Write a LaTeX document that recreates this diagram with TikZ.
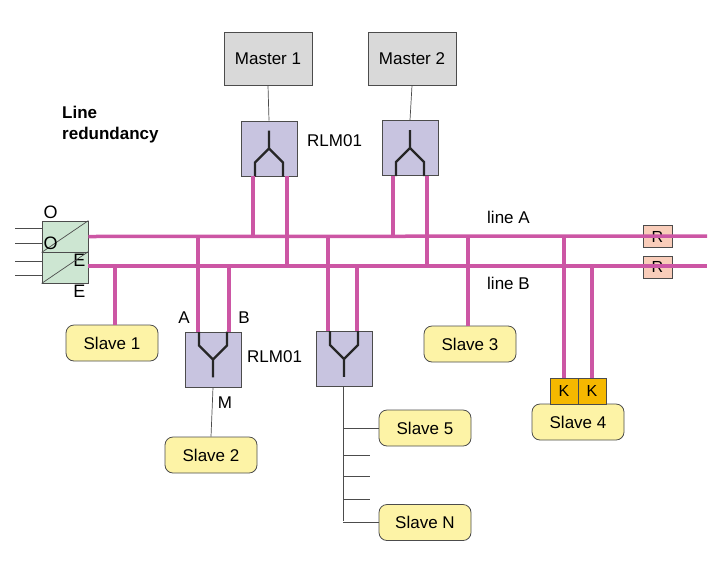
\documentclass[tikz,border=0pt]{standalone}
\usepackage{fontspec}
\setmainfont{Liberation Sans}
\begin{document}
\begin{tikzpicture}[x=1pt,y=-1pt,
  bus/.style={draw={rgb,255:red,204;green,86;blue,164},line width=3.5pt},
  thin/.style={draw=black!70,line width=0.7pt},
  box/.style={draw=black!70,line width=0.8pt,minimum width=56pt,minimum height=55pt,inner sep=0pt,fill={rgb,255:red,200;green,196;blue,224}},
  master/.style={draw=black!70,line width=0.8pt,minimum width=88pt,minimum height=53pt,fill={rgb,255:red,217;green,217;blue,217},font=\fontsize{17}{19}\selectfont},
  slave/.style={draw=black!70,line width=0.8pt,rounded corners=8pt,minimum width=92pt,minimum height=36pt,fill={rgb,255:red,253;green,243;blue,166},font=\fontsize{17}{19}\selectfont},
  sm/.style={draw=black!70,line width=0.8pt,minimum width=29pt,minimum height=22pt,inner sep=0pt,font=\fontsize{16}{18}\selectfont},
  lbl/.style={font=\fontsize{17}{19}\selectfont,inner sep=0pt},
  fork/.style={line width=2.2pt,black!85}]
\useasboundingbox (0,0) rectangle (719,560);
% masters
\node[master] (m1) at (268,58.5) {Master 1};
\node[master] (m2) at (412,58.5) {Master 2};
% RLM boxes
\node[box] (r1) at (269,148.5) {};
\node[box] (r2) at (410,148) {};
\node[box] (r3) at (213,359.5) {};
\node[box] (r4) at (344,359) {};
\draw[thin] (m1.south) -- (r1.north);
\draw[thin] (m2.south) -- (r2.north);
% forks up (top)
\foreach \r in {r1,r2}{
  \draw[fork] ([yshift=-10pt]\r.north) -- (\r.center) -- ++(-14,14) -- ++(0,14);
  \draw[fork] (\r.center) -- ++(14,14) -- ++(0,14);}
\foreach \r in {r3,r4}{
  \draw[fork] ([yshift=10pt]\r.south) -- (\r.center) -- ++(-14,-14) -- ++(0,-14);
  \draw[fork] (\r.center) -- ++(14,-14) -- ++(0,-14);}
% O/E converters
\node[sm,minimum width=46pt,minimum height=31pt,fill={rgb,255:red,205;green,230;blue,210}] (oe1) at (65,236.5) {};
\node[sm,minimum width=46pt,minimum height=31pt,fill={rgb,255:red,205;green,230;blue,210}] (oe2) at (65,267.5) {};
\foreach \o in {oe1,oe2}{
  \draw[thin] (\o.south west) -- (\o.north east);
  \node[lbl,font=\fontsize{18}{20}\selectfont] at ([xshift=9pt,yshift=8pt]\o.north west) {O};
  \node[lbl,font=\fontsize{18}{20}\selectfont] at ([xshift=-9pt,yshift=-8pt]\o.south east) {E};}
\foreach \y in {228,243,261,275} \draw[thin] (15,\y) -- (42,\y);
% R terminators
\node[sm,fill={rgb,255:red,249;green,205;blue,186}] (ra) at (657.5,236.5) {R};
\node[sm,fill={rgb,255:red,249;green,205;blue,186}] (rb) at (657.5,267) {R};
% buses
\coordinate (aend) at (707,236);
\coordinate (bend) at (707,266);
\draw[bus] (oe1.east) -- (aend);
\draw[bus] (88,266) -- (bend);
% slaves
\node[slave] (s1) at (112,343) {Slave 1};
\node[slave] (s2) at (211,455) {Slave 2};
\node[slave] (s3) at (470,344) {Slave 3};
\node[slave] (s4) at (578,422) {Slave 4};
\node[slave] (s5) at (425,428) {Slave 5};
\node[slave] (sn) at (425,522.5) {Slave N};
% K boxes
\node[sm,minimum height=26pt,minimum width=28pt,fill={rgb,255:red,245;green,184;blue,0}] (k1) at (564,391) {K};
\node[sm,minimum height=26pt,minimum width=28pt,fill={rgb,255:red,245;green,184;blue,0}] (k2) at (592,391) {K};
% drops
\draw[bus] (r1.south -| 253,0) -- (253,236);
\draw[bus] (r1.south -| 287,0) -- (287,266);
\draw[bus] (r2.south -| 393,0) -- (393,236);
\draw[bus] (r2.south -| 427,0) -- (427,266);
\draw[bus] (r3.north -| 198,0) -- (198,236);
\draw[bus] (r3.north -| 229,0) -- (229,266);
\draw[bus] (r4.north -| 328,0) -- (328,236);
\draw[bus] (r4.north -| 357,0) -- (357,266);
\draw[bus] (s1.north -| 115,0) -- (115,266);
\draw[bus] (s3.north -| 468,0) -- (468,236);
\draw[bus] (k1.north) -- (564,236);
\draw[bus] (k2.north) -- (592,266);
% thin links
\draw[thin] (r3.south) -- (s2.north);
\coordinate (tb) at (343,521);
\draw[thin] (r4.south -| 343,0) -- (tb);
\draw[thin] (343,428) -- (s5.west);
\draw[thin] (343,522.5) -- (sn.west);
\foreach \y in {455,476,499} \draw[thin] (343,\y) -- (370,\y);
% labels
\node[lbl,anchor=north west,align=left,font=\bfseries\fontsize{17}{21}\selectfont] (t) at (62,106) {Line\\redundancy};
\node[lbl,anchor=west] (l1) at (307,141) {RLM01};
\node[lbl,anchor=west] (l2) at (247,357) {RLM01};
\node[lbl,anchor=west] (la) at (487,217) {line A};
\node[lbl,anchor=west] (lb) at (487,283) {line B};
\node[lbl] (lA) at (184,318) {A};
\node[lbl] (lB) at (244,318) {B};
\node[lbl] (lM) at (225,403) {M};
\end{tikzpicture}
\end{document}
